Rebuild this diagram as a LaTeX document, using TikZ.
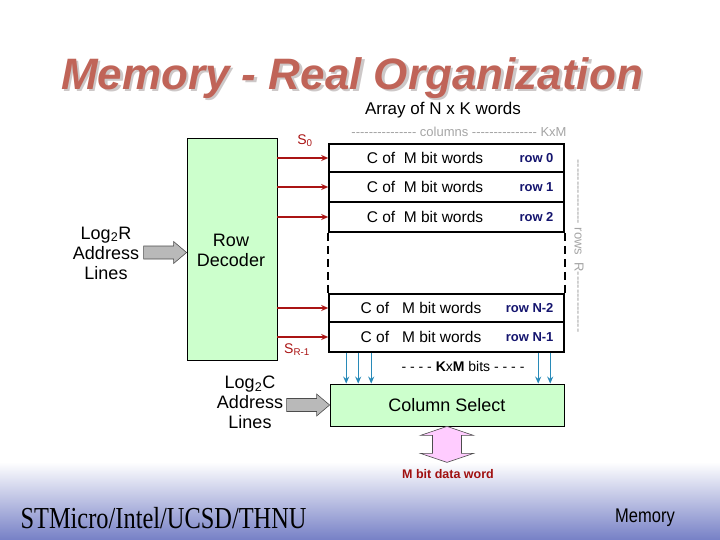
\documentclass[tikz,border=0pt]{standalone}
\usepackage{fontspec}
\setmainfont{Liberation Sans}
\newfontfamily\footserif{Liberation Serif}
\usetikzlibrary{arrows.meta}
\definecolor{titlered}{RGB}{192,100,88}
\definecolor{titleshadow}{RGB}{205,200,200}
\definecolor{decgreen}{RGB}{204,255,204}
\definecolor{wirered}{RGB}{170,20,20}
\definecolor{wireblue}{RGB}{40,138,184}
\definecolor{rownavy}{RGB}{20,20,110}
\definecolor{softgray}{RGB}{165,165,165}
\definecolor{arrgray}{RGB}{185,185,185}
\definecolor{pinkfill}{RGB}{255,204,255}
\definecolor{footblue}{RGB}{118,128,198}
\definecolor{dataRed}{RGB}{160,16,16}
\newcommand{\hyph}[1]{\foreach \i in {1,...,#1}{-}}
\tikzset{
  greenbox/.style={draw=black, line width=0.8pt, fill=decgreen, inner sep=0pt, align=center},
  rowbox/.style={draw=black, line width=1.6pt, minimum width=235pt, inner sep=0pt},
  rowtext/.style={font=\fontsize{15.5}{17}\selectfont},
  rowlabel/.style={font=\bfseries\fontsize{13}{14}\selectfont, text=rownavy, anchor=east},
  redwire/.style={draw=wirered, line width=1.3pt, -{Stealth[length=7pt,width=6pt]}},
  bluewire/.style={draw=wireblue, line width=1.3pt, -{Stealth[length=7pt,width=6pt]}},
  bigtext/.style={font=\fontsize{18}{20}\selectfont, align=center},
  blockarrow/.pic={\draw[fill=arrgray, draw=black!70, line width=0.6pt]
     (-43,-6.5) -- (-13,-6.5) -- (-13,-11) -- (0,0) -- (-13,11) -- (-13,6.5) -- (-43,6.5) -- cycle;}
}
\begin{document}
\begin{tikzpicture}[x=1pt,y=-1pt]
\useasboundingbox (0,0) rectangle (720,540);
\shade[top color=white, bottom color=footblue] (0,462) rectangle (720,540);

% title with shadow
\node[font=\bfseries\itshape\fontsize{44}{46}\selectfont, text=titlered] (title) at (352,79)
  {\makebox[0pt][l]{\hspace{2.5pt}\raisebox{-2.5pt}{\textcolor{titleshadow}{Memory - Real Organization}}}Memory - Real Organization};
\node[font=\fontsize{17}{19}\selectfont] (arr) at (443,110) {Array of N x K words};
\node[font=\fontsize{13}{15}\selectfont, text=softgray] (cols) at (459,132) {\hyph{15} columns \hyph{15} KxM};

% row decoder
\node[greenbox, minimum width=90pt, minimum height=222pt] (dec) at (232,249) {};
\node[bigtext] (dectext) at (231,250) {Row\\Decoder};

% array rows
\node[rowbox, minimum height=28pt] (r0) at (446.5,158) {};
\node[rowbox, minimum height=30pt] (r1) at (446.5,187) {};
\node[rowbox, minimum height=30pt] (r2) at (446.5,217) {};
\node[rowbox, minimum height=28pt] (rn2) at (446.5,308) {};
\node[rowbox, minimum height=30pt] (rn1) at (446.5,337) {};
\draw[line width=1.6pt, dash pattern=on 8pt off 5pt] (r2.south west) -- (rn2.north west);
\draw[line width=1.6pt, dash pattern=on 8pt off 5pt] (r2.south east) -- (rn2.north east);

\node[rowtext] (t0) at (425,158) {C of\ \ M bit words};
\node[rowtext] (t1) at (425,187) {C of\ \ M bit words};
\node[rowtext] (t2) at (425,217) {C of\ \ M bit words};
\node[rowtext] (tn2) at (421,308) {C of\ \ \ M bit words};
\node[rowtext] (tn1) at (421,337) {C of\ \ \ M bit words};
\node[rowlabel] (l0) at (557,158) {row 0};
\node[rowlabel] (l1) at (557,187) {row 1};
\node[rowlabel] (l2) at (557,217) {row 2};
\node[rowlabel] (ln2) at (557,308) {row N-2};
\node[rowlabel] (ln1) at (557,337) {row N-1};

\node[font=\fontsize{13}{15}\selectfont, text=softgray, rotate=-90] (rowsR) at (579,246) {\hyph{15} rows \ R\hyph{14}};

% select wires
\draw[redwire] (dec.east |- r0.west) -- (r0.west);
\draw[redwire] (dec.east |- r1.west) -- (r1.west);
\draw[redwire] (dec.east |- r2.west) -- (r2.west);
\draw[redwire] (dec.east |- rn2.west) -- (rn2.west);
\draw[redwire] (dec.east |- rn1.west) -- (rn1.west);
\node[text=wirered, font=\fontsize{14}{16}\selectfont] (s0) at (305,141) {S\textsubscript{0}};
\node[text=wirered, font=\fontsize{14}{16}\selectfont] (sr) at (297,350) {S\textsubscript{R-1}};

% row address
\node[bigtext] (log2r) at (106,253) {Log\textsubscript{2}R\\Address\\Lines};
\pic at (dec.west |- 0,252.5) {blockarrow};

% column select
\node[greenbox, minimum width=234pt, minimum height=42pt, font=\fontsize{18}{20}\selectfont] (cs) at (447,405) {Column Select};
\foreach \xx in {18,30,43,210,222}{
  \draw[bluewire] ([xshift=\xx pt]rn1.south west) -- ([xshift=\xx pt]rn1.south west |- cs.north);
}
\node[font=\fontsize{14}{16}\selectfont] (kxm) at (463,366) {- - - - \textbf{K}x\textbf{M} bits - - - -};

\node[bigtext] (log2c) at (250,402) {Log\textsubscript{2}C\\Address\\Lines};
\pic at (cs.west) {blockarrow};

% data word double arrow
\coordinate (dtop) at (cs.south);
\draw[fill=pinkfill, draw=black!70, line width=0.6pt]
  (dtop) -- ++(26.5,9) -- ++(-12,0) -- ++(0,18) -- ++(12,0) -- ++(-26.5,9)
  -- ++(-26.5,-9) -- ++(12,0) -- ++(0,-18) -- ++(-12,0) -- cycle;
\node[text=dataRed, font=\bfseries\fontsize{12.5}{14}\selectfont] (dw) at (448,474) {M bit data word};

% footer
\node[anchor=west, font=\footserif\fontsize{24.4}{28}\selectfont] (foot) at (17,518) {\scalebox{1}[1.25]{STMicro/Intel/UCSD/THNU}};
\node[font=\fontsize{16.5}{18}\selectfont] (mem) at (645,518) {\scalebox{1}[1.2]{Memory}};
\end{tikzpicture}
\end{document}
